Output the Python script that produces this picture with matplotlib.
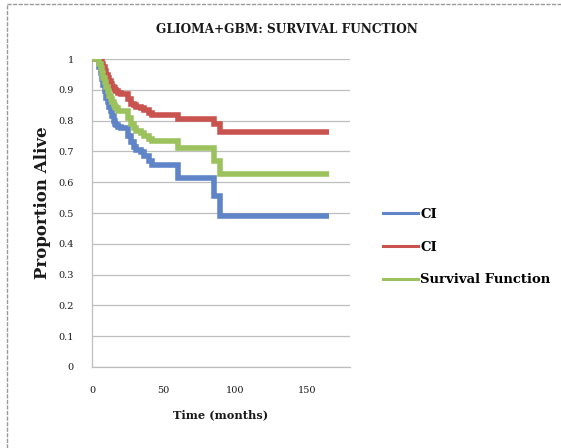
#!/usr/bin/env python3
"""Glioma+GBM Kaplan-Meier survival curve with confidence band."""

import matplotlib

matplotlib.use("Agg")
import matplotlib.pyplot as plt
from matplotlib.lines import Line2D

BLUE = "#5F84C8"
RED = "#C9534F"
GREEN = "#9CC25E"
GRID = "#BEBEBE"
INK = "#1A1A1A"

# event times (months), shared by the three step curves
time = [0, 5, 6, 7, 8, 9, 10, 11, 12, 13, 14, 15, 16, 17, 18, 20, 25, 27, 29,
        31, 34, 36, 40, 42, 60, 85, 89, 165]
ci_lower = [1.0, 0.975, 0.955, 0.935, 0.915, 0.895, 0.875, 0.86, 0.845, 0.83,
            0.815, 0.80, 0.79, 0.785, 0.78, 0.775, 0.75, 0.73, 0.715, 0.705,
            0.697, 0.685, 0.67, 0.655, 0.615, 0.555, 0.49, 0.49]
ci_upper = [1.0, 1.0, 0.995, 0.985, 0.975, 0.962, 0.95, 0.94, 0.93, 0.92,
            0.91, 0.905, 0.90, 0.895, 0.89, 0.888, 0.87, 0.855, 0.85, 0.845,
            0.84, 0.835, 0.825, 0.82, 0.805, 0.788, 0.763, 0.763]
survival = [1.0, 0.985, 0.97, 0.955, 0.94, 0.925, 0.91, 0.895, 0.88, 0.87,
            0.86, 0.85, 0.845, 0.84, 0.832, 0.83, 0.81, 0.79, 0.775, 0.768,
            0.76, 0.75, 0.74, 0.735, 0.71, 0.67, 0.627, 0.627]

series = [("CI", ci_lower, BLUE), ("CI", ci_upper, RED), ("Survival Function", survival, GREEN)]
x_ticks = [0, 50, 100, 150]
y_ticks = [0, 0.1, 0.2, 0.3, 0.4, 0.5, 0.6, 0.7, 0.8, 0.9, 1]
y_tick_labels = ["0", "0.1", "0.2", "0.3", "0.4", "0.5", "0.6", "0.7", "0.8", "0.9", "1"]

plt.rcParams.update({"font.family": ["DejaVu Serif"]})

fig = plt.figure(figsize=(5.61, 4.48), dpi=100)
ax = fig.add_axes([0.164, 0.181, 0.460, 0.687])

for name, values, color in series:
    ax.step(time, values, where="post", color=color, linewidth=4.0,
            solid_capstyle="butt", solid_joinstyle="miter", zorder=3)

ax.set_xlim(0, 180)
ax.set_ylim(0, 1)
ax.set_xticks(x_ticks)
ax.set_yticks(y_ticks)
ax.set_yticklabels(y_tick_labels)
ax.tick_params(length=0, labelsize=7, colors=INK)
ax.tick_params(axis="x", pad=14)
ax.tick_params(axis="y", pad=13)
ax.grid(True, axis="y", color=GRID, linewidth=0.9)
ax.set_axisbelow(True)
for side in ["top", "right"]:
    ax.spines[side].set_visible(False)
for side in ["left", "bottom"]:
    ax.spines[side].set_color(GRID)
    ax.spines[side].set_linewidth(0.9)

ax.set_xlabel("Time (months)", fontsize=8.2, fontweight="bold", color=INK, labelpad=10)
fig.text(0.076, 0.547, "Proportion Alive", rotation=90, fontsize=12, fontweight="bold",
         color=INK, ha="center", va="center")
fig.text(0.512, 0.935, "GLIOMA+GBM: SURVIVAL FUNCTION", fontsize=8.7, fontweight="bold",
         color=INK, ha="center", va="center")

handles = [Line2D([], [], color=c, linewidth=2.2) for _, _, c in series]
fig.legend(handles, [n for n, _, _ in series], loc="upper left",
           bbox_to_anchor=(0.682, 0.536), frameon=False,
           prop={"size": 9.5, "weight": "bold"},
           handlelength=2.7, handletextpad=0.15, labelspacing=1.5,
           borderpad=0, borderaxespad=0)

# outer chart border
fig.add_artist(Line2D([0.012, 0.012], [0.0, 0.99], transform=fig.transFigure,
                      color="#9A9A9A", linewidth=1.0, linestyle=(0, (3, 1))))
fig.add_artist(Line2D([0.012, 1.0], [0.99, 0.99], transform=fig.transFigure,
                      color="#9A9A9A", linewidth=1.0, linestyle=(0, (3, 1))))

fig.savefig("out.png", dpi=100)
